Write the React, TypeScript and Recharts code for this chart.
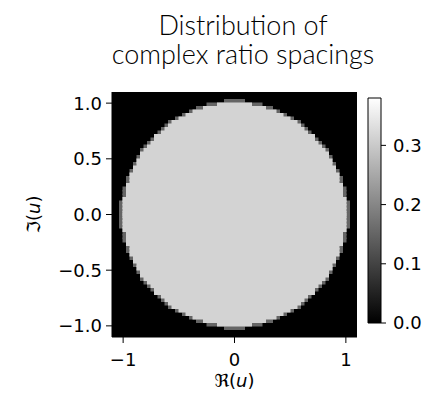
import { ScatterChart, Scatter, XAxis, YAxis, ReferenceArea, CartesianGrid, BarChart, Bar } from "recharts"

// histogram grid: 70 bins over [-1.1, 1.1] on each axis
const BIN_COUNT = 70
const AXIS_LIMIT = 1.1
// fully filled cells on each side of the centre, per row going outwards from y = 0
const ROW_HALF_CELLS = [32, 32, 32, 32, 32, 31, 31, 31, 31, 30, 30, 30, 29, 29, 28, 28, 27, 27, 26, 25, 24, 23, 23, 21, 20, 19, 18, 16, 14, 12, 9, 5]
// partly filled (dimmer) rim cells reach this far on each side, same rows plus one cap row
const ROW_RIM_CELLS = [33, 33, 33, 33, 32, 32, 32, 32, 31, 31, 31, 30, 30, 29, 29, 28, 28, 27, 27, 26, 25, 24, 23, 22, 21, 20, 19, 17, 15, 13, 11, 8, 3]
const DISK_DENSITY = 0.315
const RIM_DENSITY = 0.15
const COLOR_MAX = 0.38

const xTicks = [-1, 0, 1]
const yTicks = [-1, -0.5, 0, 0.5, 1]
const cbTicks = [0, 0.1, 0.2, 0.3]
const titleLines = ["Distribution of", "complex ratio spacings"]

const TICK_FONT = { fontFamily: "DejaVu Sans", fontSize: 18, fill: "#000" }
const minus = (s: string) => s.replace("-", "\u2212")

const gray = (v: number) => {
  const g = Math.round(Math.min(1, v / COLOR_MAX) * 255)
  return `rgb(${g},${g},${g})`
}

const binW = (2 * AXIS_LIMIT) / BIN_COUNT
// rows mirrored about y = 0; each overlaps a little into the wider row nearer the centre, so no seams show
const toRows = (counts: number[], v: number) =>
  counts.flatMap((n, j) => [
    { x1: -n * binW, x2: n * binW, y1: j * binW - binW * 0.4, y2: (j + 1) * binW, v },
    { x1: -n * binW, x2: n * binW, y1: -(j + 1) * binW, y2: -j * binW + binW * 0.4, v },
  ])
const rows = [...toRows(ROW_RIM_CELLS, RIM_DENSITY), ...toRows(ROW_HALF_CELLS, DISK_DENSITY)]

const XLabel = ({ viewBox }: any) => (
  <text x={viewBox.x + viewBox.width / 2} y={387} textAnchor="middle" style={TICK_FONT}>
    ℜ(<tspan fontStyle="italic">u</tspan>)
  </text>
)

const YLabel = ({ viewBox }: any) => {
  const cy = viewBox.y + viewBox.height / 2
  return (
    <text x={40} y={cy} transform={`rotate(-90, 40, ${cy})`} textAnchor="middle" style={TICK_FONT}>
      ℑ(<tspan fontStyle="italic">u</tspan>)
    </text>
  )
}

export default function App() {
  return (
    <div style={{ position: "absolute", left: 0, top: 0, width: 427, height: 394, background: "#fff" }}>
      {titleLines.map((t, i) => (
        <div
          key={i}
          style={{
            position: "absolute",
            left: 43,
            width: 400,
            top: 11 + i * 28.5,
            textAlign: "center",
            fontFamily: "Lato",
            fontWeight: 300,
            fontSize: 27,
            lineHeight: "27px",
            color: "#000",
          }}
        >
          {t}
        </div>
      ))}

      <div style={{ position: "absolute", left: 0, top: 0 }}>
        <ScatterChart width={427} height={394} margin={{ top: 92, right: 70, bottom: 27, left: 52 }}>
          <CartesianGrid fill="#000" stroke="none" />
          <XAxis
            type="number"
            dataKey="x"
            domain={[-AXIS_LIMIT, AXIS_LIMIT]}
            ticks={xTicks}
            tickFormatter={(v) => minus(String(v))}
            tick={TICK_FONT}
            tickSize={6}
            tickMargin={10}
            stroke="#000"
            height={30}
            label={<XLabel />}
          />
          <YAxis
            type="number"
            dataKey="y"
            domain={[-AXIS_LIMIT, AXIS_LIMIT]}
            ticks={yTicks}
            tickFormatter={(v) => minus(v.toFixed(1))}
            tick={TICK_FONT}
            tickSize={6}
            tickMargin={4}
            stroke="#000"
            width={60}
            label={<YLabel />}
          />
          {rows.map((r, i) => (
            <ReferenceArea
              key={i}
              x1={r.x1}
              x2={r.x2}
              y1={r.y1}
              y2={r.y2}
              fill={gray(r.v)}
              fillOpacity={1}
              stroke="none"
              ifOverflow="visible"
            />
          ))}
          <Scatter data={rows.map((r) => ({ x: 0, y: (r.y1 + r.y2) / 2 }))} shape={() => null} isAnimationActive={false} />
        </ScatterChart>
      </div>

      <div style={{ position: "absolute", left: 355, top: 90 }}>
        <BarChart width={72} height={245} data={[{ name: "cb", v: COLOR_MAX }]} margin={{ top: 8, right: 0, bottom: 12, left: 13 }} barCategoryGap={0}>
          <defs>
            <linearGradient id="cbGrad" x1="0" y1="1" x2="0" y2="0">
              <stop offset="0%" stopColor="#000" />
              <stop offset="100%" stopColor="#fff" />
            </linearGradient>
          </defs>
          <XAxis dataKey="name" hide />
          <YAxis
            orientation="right"
            domain={[0, COLOR_MAX]}
            ticks={cbTicks}
            tickFormatter={(v) => v.toFixed(1)}
            tick={TICK_FONT}
            tickSize={5}
            tickMargin={7}
            axisLine={false}
            stroke="#000"
            width={46}
          />
          <Bar dataKey="v" fill="url(#cbGrad)" stroke="#000" strokeWidth={1} isAnimationActive={false} />
        </BarChart>
      </div>
    </div>
  )
}
